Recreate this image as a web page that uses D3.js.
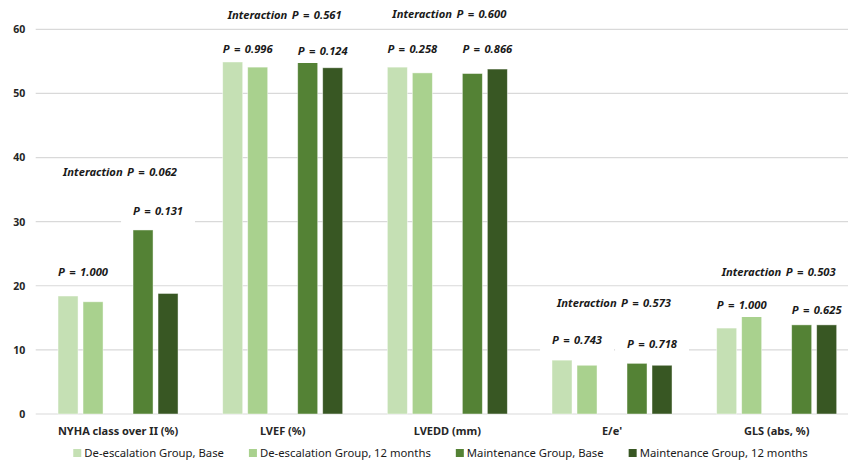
<!DOCTYPE html>
<html>
<head>
<meta charset="utf-8">
<script src="https://cdn.jsdelivr.net/npm/d3@7"></script>
<style>
  html, body { margin: 0; padding: 0; background: #fff; }
  svg { display: block; }
  text { font-family: "Noto Sans", "DejaVu Sans", sans-serif; }
</style>
</head>
<body>
<svg id="chart" width="848" height="465"></svg>
<script>
// Outcome measures (category axis)
const categories = ["NYHA class over II (%)", "LVEF (%)", "LVEDD (mm)", "E/e'", "GLS (abs, %)"];

// Series names, in legend order
const seriesNames = [
  "De-escalation Group, Base",
  "De-escalation Group, 12 months",
  "Maintenance Group, Base",
  "Maintenance Group, 12 months"
];

// Values per series, one per category
const deescBase    = [18.4, 54.9, 54.1, 8.4, 13.4];
const deesc12m     = [17.5, 54.1, 53.2, 7.6, 15.2];
const maintBase    = [28.7, 54.9, 53.1, 7.9, 13.9];
const maint12m     = [18.8, 54.0, 53.8, 7.6, 13.9];

// Within-group P values (de-escalation pair, maintenance pair) and interaction P values
const pDeesc       = ["1.000", "0.996", "0.258", "0.743", "1.000"];
const pMaint       = ["0.131", "0.124", "0.866", "0.718", "0.625"];
const pInteraction = ["0.062", "0.561", "0.600", "0.573", "0.503"];

const yTicks = [0, 10, 20, 30, 40, 50, 60];
const colors = ["#c5e0b4", "#a9d18e", "#548235", "#385723"];

const seriesValues = [deescBase, deesc12m, maintBase, maint12m];

const svg = d3.select("#chart");

// Plot geometry
const plotLeft = 35.7, plotRight = 859, plotTop = 29.3, plotBottom = 414;

const x = d3.scaleBand().domain(categories).range([plotLeft, plotRight]).padding(0);
const y = d3.scaleLinear().domain([0, 60]).range([plotBottom, plotTop]);

// Five slots per category; the middle one stays empty to separate the two groups
const slotOfSeries = [0, 1, 3, 4];
const inner = d3.scaleBand().domain([0, 1, 2, 3, 4]).range([0, 120]).paddingInner(0.2).paddingOuter(0);
const groupOffset = (x.bandwidth() - 120) / 2;

// Gridlines
const grid = svg.append("g");
grid.selectAll("line").data(yTicks).join("line")
  .attr("x1", plotLeft).attr("x2", plotRight)
  .attr("y1", d => y(d)).attr("y2", d => y(d))
  .attr("stroke", "#d9d9d9").attr("stroke-width", 1.2);

// Y axis labels
const yAxis = d3.axisLeft(y).tickValues(yTicks).tickSize(0).tickPadding(0).tickFormat(d3.format("d"));
const yg = svg.append("g").attr("transform", `translate(${plotLeft - 10.5},0)`).call(yAxis);
yg.select(".domain").remove();
yg.selectAll("text")
  .attr("font-family", "Noto Sans, sans-serif")
  .attr("font-size", 10.5).attr("font-weight", "bold").attr("fill", "#262626");

// Bars
const barData = [];
seriesValues.forEach((vals, s) => {
  vals.forEach((v, c) => barData.push({ s, c, v }));
});
svg.append("g").selectAll("rect").data(barData).join("rect")
  .attr("x", d => x(categories[d.c]) + groupOffset + inner(slotOfSeries[d.s]))
  .attr("width", inner.bandwidth())
  .attr("y", d => y(d.v))
  .attr("height", d => y(0) - y(d.v))
  .attr("fill", d => colors[d.s])
  .attr("stroke", "#ffffff").attr("stroke-opacity", 0.55).attr("stroke-width", 0.8);

// Category labels
const xAxis = d3.axisBottom(x).tickSize(0).tickPadding(0);
const xg = svg.append("g").attr("transform", `translate(0,${plotBottom + 13})`).call(xAxis);
xg.select(".domain").remove();
xg.selectAll("text")
  .attr("font-family", "Noto Sans, sans-serif")
  .attr("font-size", 11).attr("font-weight", "bold").attr("fill", "#262626");

// P value annotations, each on a white text box
const annoLayer = svg.append("g");
function pairCenter(c, firstSlot) {
  return x(categories[c]) + groupOffset + inner(firstSlot) + inner.step() - 2.5;
}
function annotate(cx, cy, label) {
  const g = annoLayer.append("g");
  const t = g.append("text")
    .attr("x", cx).attr("y", cy).attr("dy", "0.35em")
    .attr("text-anchor", "middle")
    .attr("font-size", 11.2).attr("font-weight", "bold").attr("font-style", "italic")
    .attr("word-spacing", 1.5)
    .attr("fill", "#1a1a1a")
    .text(label);
  const w = t.node().getComputedTextLength();
  g.insert("rect", "text")
    .attr("x", cx - w / 2 - 12).attr("width", w + 24)
    .attr("y", cy - 11).attr("height", 23)
    .attr("fill", "#fff");
}

// Vertical placement of the label rows for each category (pixels)
const rowDeesc = [272, 49, 49, 340, 305];
const rowMaint = [211, 51, 49, 344, 310];
const rowInter = [172, 15, 14, 303, 272];
categories.forEach((cat, c) => {
  annotate(pairCenter(c, 0) + 2.5, rowDeesc[c], `P = ${pDeesc[c]}`);
  annotate(pairCenter(c, 3) + 2.5, rowMaint[c], `P = ${pMaint[c]}`);
  annotate(x(cat) + x.bandwidth() / 2 + 2, rowInter[c], `Interaction P = ${pInteraction[c]}`);
});

// Legend
const legend = svg.append("g");
let lx = 0;
seriesNames.forEach((name, i) => {
  const g = legend.append("g");
  g.append("rect").attr("x", 0).attr("y", -4).attr("width", 8).attr("height", 8).attr("fill", colors[i]);
  const t = g.append("text").attr("x", 11).attr("dy", "0.35em")
    .attr("font-size", 11.3).attr("fill", "#1a1a1a").text(name);
  const w = 11 + t.node().getComputedTextLength();
  g.attr("transform", `translate(${lx},0)`);
  lx += w + 25;
});
const legendWidth = lx - 25;
legend.attr("transform", `translate(${440.5 - legendWidth / 2},453)`);
</script>
</body>
</html>
